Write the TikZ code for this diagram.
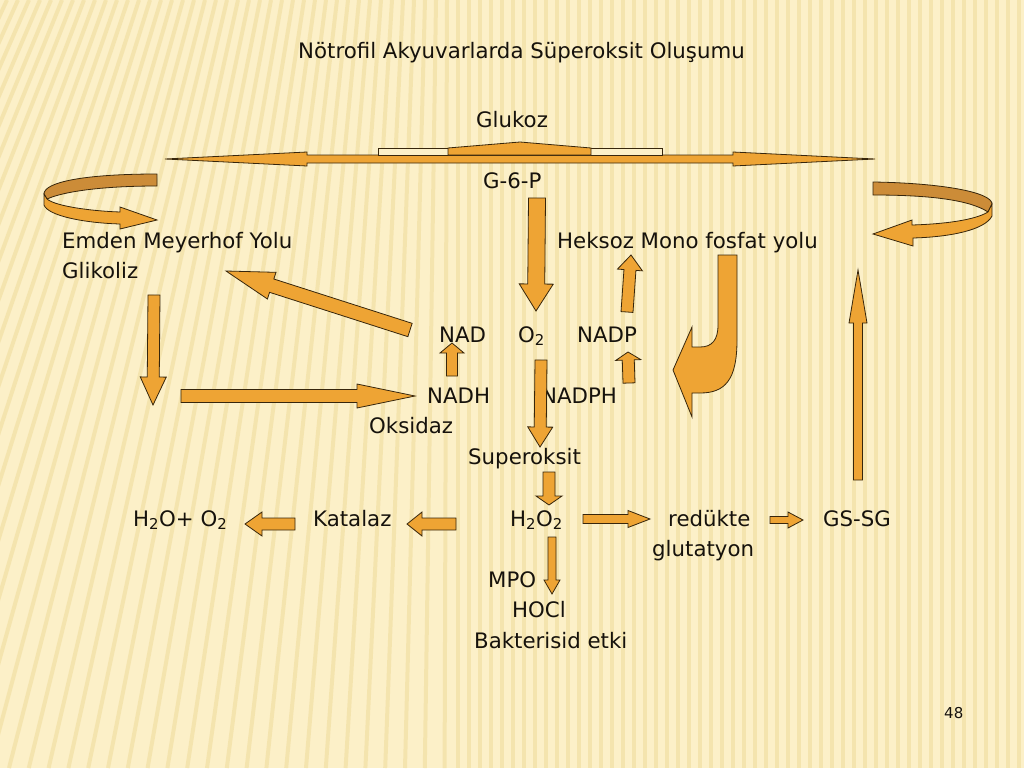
\documentclass[tikz,border=0pt]{standalone}
\usepackage{fontspec}
\setmainfont{DejaVu Sans}
\usetikzlibrary{positioning}
\usetikzlibrary{calc}

\definecolor{bgcream}{RGB}{252,240,200}
\definecolor{stripecol}{RGB}{240,220,158}
\definecolor{arrowfill}{RGB}{238,164,52}
\definecolor{arrowback}{RGB}{204,140,56}
\definecolor{arrowline}{RGB}{55,38,12}
\definecolor{txt}{RGB}{22,18,12}

% block arrow: tail, tip, half shaft, half head, head length
\newcommand{\blockarrow}[5]{%
  \coordinate (hb) at ($(#2)!#5pt!(#1)$);
  \draw[blk] ($(#1)!#3pt!90:(#2)$) -- ($(hb)!#3pt!90:(#2)$) -- ($(hb)!#4pt!90:(#2)$) -- (#2)
    -- ($(hb)!#4pt!-90:(#2)$) -- ($(hb)!#3pt!-90:(#2)$) -- ($(#1)!#3pt!-90:(#2)$) -- cycle;
}

\begin{document}
\begin{tikzpicture}[x=1pt, y=-1pt,
    blk/.style={fill=arrowfill, draw=arrowline, line width=0.8pt, line join=miter},
    back/.style={fill=arrowback, draw=arrowline, line width=0.8pt},
    hole/.style={fill=bgcream, draw=arrowline, line width=0.8pt},
    lbl/.style={inner sep=0pt, anchor=base west, text=txt, font=\fontsize{21.3}{25}\selectfont},
    stripe/.style={draw=stripecol, line width=4pt, opacity=0.6}]
    \useasboundingbox (0,0) rectangle (1024,768);
    \fill[bgcream] (0,0) rectangle (1024,768);
    \begin{scope}
        \clip (0,0) rectangle (1024,768);
        \foreach \t in {-400,-389,...,1040}
            \draw[stripe] (\t,0) -- ({\t-0.8*max(0,450-\t)},768);
    \end{scope}

    % labels
    \node[lbl] (title) at (298,59) {Nötrofil Akyuvarlarda Süperoksit Oluşumu};
    \node[lbl] (glukoz) at (476,127) {Glukoz};
    \node[lbl] (g6p) at (483,188) {G-6-P};
    \node[lbl] (emden) at (62,248) {Emden Meyerhof Yolu};
    \node[lbl] (glikoliz) at (62,278) {Glikoliz};
    \node[lbl] (heksoz) at (557,248) {Heksoz Mono fosfat yolu};
    \node[lbl] (nad) at (439,342) {NAD};
    \node[lbl] (o2) at (518,342) {O\textsubscript{2}};
    \node[lbl] (nadp) at (577,342) {NADP};
    \node[lbl] (nadh) at (427,403) {NADH};
    \node[lbl] (nadph) at (541,403) {NADPH};
    \node[lbl] (oksidaz) at (369,433) {Oksidaz};
    \node[lbl] (superoksit) at (468,464) {Superoksit};
    \node[lbl] (water) at (133,526) {H\textsubscript{2}O+ O\textsubscript{2}};
    \node[lbl] (katalaz) at (313,526) {Katalaz};
    \node[lbl] (h2o2) at (510,526) {H\textsubscript{2}O\textsubscript{2}};
    \node[lbl] (redukte) at (668,526) {redükte};
    \node[lbl] (glutatyon) at (652,556) {glutatyon};
    \node[lbl] (gssg) at (823,526) {GS-SG};
    \node[lbl] (mpo) at (488,587) {MPO};
    \node[lbl] (hocl) at (512,617) {HOCl};
    \node[lbl] (bakterisid) at (474,648) {Bakterisid etki};
    \node[lbl, font=\fontsize{15}{18}\selectfont] (page) at (944,718) {48};

    % arrow ends
    \coordinate (g6p-t) at (537,198);       \coordinate (g6p-h) at (536,311);
    \coordinate (nad-t) at (410,330);       \coordinate (nad-h) at (226,271);
    \coordinate (gli-t) at (154,295);       \coordinate (gli-h) at (153,405);
    \coordinate (ox-t) at (181,396);        \coordinate (ox-h) at (415,396);
    \coordinate (nadh-t) at (452,376);      \coordinate (nadh-h) at (452,343);
    \coordinate (o2-t) at (541,360);        \coordinate (o2-h) at (540,447);
    \coordinate (nadph-t) at (629,383);     \coordinate (nadph-h) at (628,352);
    \coordinate (nadp-t) at (627,312);      \coordinate (nadp-h) at (631,255);
    \coordinate (gssg-t) at (858,480);      \coordinate (gssg-h) at (858,270);
    \coordinate (sup-t) at (549,472);       \coordinate (sup-h) at (549,505);
    \coordinate (kat-t) at (456,524);       \coordinate (kat-h) at (407,524);
    \coordinate (wat-t) at (295,524);       \coordinate (wat-h) at (245,524);
    \coordinate (red-t) at (583,519);       \coordinate (red-h) at (650,519);
    \coordinate (gs-t) at (770,520);        \coordinate (gs-h) at (803,520);
    \coordinate (mpo-t) at (552,537);       \coordinate (mpo-h) at (552,594);

    \blockarrow{g6p-t}{g6p-h}{8.5}{17}{27}
    \blockarrow{nad-t}{nad-h}{7}{14}{48}
    \blockarrow{gli-t}{gli-h}{6}{13}{28}
    \blockarrow{ox-t}{ox-h}{6.5}{12}{58}
    \blockarrow{nadh-t}{nadh-h}{5.5}{12}{10}
    \blockarrow{o2-t}{o2-h}{6}{12.5}{20}
    \blockarrow{nadph-t}{nadph-h}{6}{12.5}{8}
    \blockarrow{nadp-t}{nadp-h}{6}{12.5}{15}
    \blockarrow{gssg-t}{gssg-h}{4.5}{9}{53}
    \blockarrow{sup-t}{sup-h}{6}{13}{9}
    \blockarrow{kat-t}{kat-h}{6}{12}{15}
    \blockarrow{wat-t}{wat-h}{6}{12}{17}
    \blockarrow{red-t}{red-h}{4.5}{8.5}{22}
    \blockarrow{gs-t}{gs-h}{3.5}{8}{15}
    \blockarrow{mpo-t}{mpo-h}{4}{8}{14}

    % top double arrow
    \draw[blk] (165,159) -- (307,152) -- (307,155) -- (733,155) -- (733,152) -- (875,159)
        -- (733,166) -- (733,163) -- (307,163) -- (307,166) -- cycle;
    \draw[hole] (378,155) -- (378,148) -- (662,148) -- (662,155) -- cycle;
    \draw[blk] (448,155) -- (448,148) -- (520,142) -- (591,148) -- (591,155) -- cycle;

    % left curl
    \draw[back] (157,174) .. controls (85,174) and (44,182) .. (44,194) -- (47,199)
        .. controls (65,191) and (105,186) .. (157,186) -- cycle;
    \draw[blk] (44,194) -- (44,205) .. controls (48,216) and (85,223) .. (120,224)
        -- (120,229) -- (157,220) -- (120,207) -- (120,212)
        .. controls (90,211) and (55,206) .. (47,199) -- cycle;

    % right curl
    \draw[back] (873,182) .. controls (940,183) and (992,192) .. (992,204) -- (988,212)
        .. controls (970,200) and (930,195) .. (873,195) -- cycle;
    \draw[blk] (992,204) -- (992,216) .. controls (985,230) and (950,237) .. (913,238)
        -- (913,246) -- (873,234) -- (912,220) -- (912,225)
        .. controls (945,224) and (975,220) .. (988,212) -- cycle;

    % bent arrow below Heksoz
    \draw[blk] (718,255) -- (737,255) -- (737,340) .. controls (737,380) and (725,393) .. (700,393)
        -- (692,393) -- (692,417) -- (673,370) -- (692,327) -- (692,347) -- (700,347)
        .. controls (712,347) and (718,340) .. (718,325) -- cycle;
\end{tikzpicture}
\end{document}
